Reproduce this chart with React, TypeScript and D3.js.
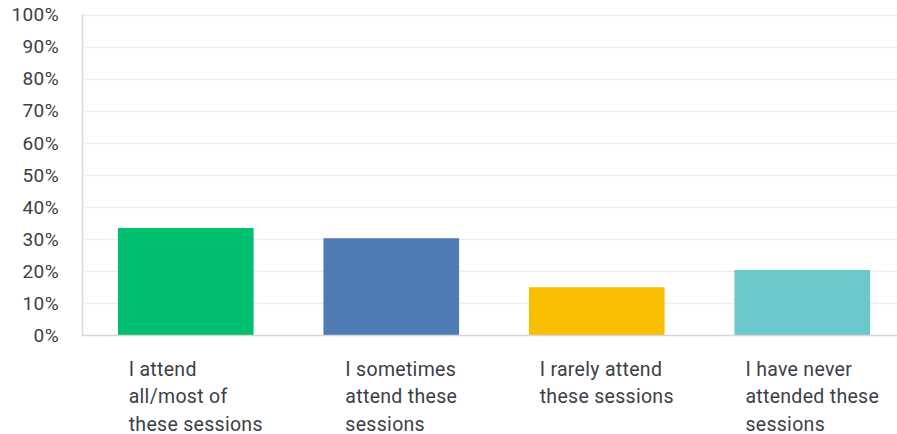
import React, { useEffect, useRef } from "react";
import * as d3 from "d3";

const categories = [
  "I attend all/most of these sessions",
  "I sometimes attend these sessions",
  "I rarely attend these sessions",
  "I have never attended these sessions",
];
const labelLines = [
  ["I attend", "all/most of", "these sessions"],
  ["I sometimes", "attend these", "sessions"],
  ["I rarely attend", "these sessions"],
  ["I have never", "attended these", "sessions"],
];
const values = [33.4, 30.2, 14.9, 20.3];
const colors = ["#00bf6f", "#507cb6", "#f9be00", "#6bc8cd"];
const yTicks = [0, 10, 20, 30, 40, 50, 60, 70, 80, 90, 100];

const App = () => {
  const svgRef = useRef<SVGSVGElement>(null);

  useEffect(() => {
    const width = 897;
    const height = 434;
    const margin = { top: 14.5, right: -8, bottom: 99, left: 83 };

    const svg = d3.select(svgRef.current);
    svg.selectAll("*").remove();
    svg.attr("width", width).attr("height", height);

    const x = d3
      .scaleBand<string>()
      .domain(categories)
      .range([margin.left, width - margin.right])
      .paddingInner(0.34)
      .paddingOuter(0.17);
    const y = d3
      .scaleLinear()
      .domain([0, 100])
      .range([height - margin.bottom, margin.top]);

    const font = "Roboto, 'Noto Sans', sans-serif";

    // gridlines
    svg
      .append("g")
      .selectAll("line")
      .data(yTicks.filter((d) => d > 0))
      .join("line")
      .attr("x1", margin.left)
      .attr("x2", width)
      .attr("y1", (d) => Math.round(y(d)) + 0.5)
      .attr("y2", (d) => Math.round(y(d)) + 0.5)
      .attr("stroke", "#ededed")
      .attr("stroke-width", 1.5);

    // y tick labels
    svg
      .append("g")
      .selectAll("text")
      .data(yTicks)
      .join("text")
      .attr("x", 59)
      .attr("y", (d) => y(d))
      .attr("dy", "0.36em")
      .attr("text-anchor", "end")
      .attr("font-family", font)
      .attr("font-size", 19)
      .attr("letter-spacing", 0.4)
      .attr("fill", "#3b4047")
      .text((d) => d + "%");

    // bars
    svg
      .append("g")
      .selectAll("rect")
      .data(values)
      .join("rect")
      .attr("x", (_, i) => x(categories[i]) as number)
      .attr("y", (d) => y(d))
      .attr("width", x.bandwidth())
      .attr("height", (d) => y(0) - y(d))
      .attr("fill", (_, i) => colors[i]);

    // axes lines
    svg
      .append("line")
      .attr("x1", margin.left - 0.5)
      .attr("x2", margin.left - 0.5)
      .attr("y1", y(100))
      .attr("y2", y(0) + 1)
      .attr("stroke", "#d9d9d9")
      .attr("stroke-width", 1.5);
    svg
      .append("line")
      .attr("x1", margin.left - 1)
      .attr("x2", width)
      .attr("y1", y(0) + 0.5)
      .attr("y2", y(0) + 0.5)
      .attr("stroke", "#d6d6d6")
      .attr("stroke-width", 1.5);

    // category labels, left-aligned block centred a little right of the bar
    const labels = svg
      .append("g")
      .selectAll("text")
      .data(labelLines)
      .join("text")
      .attr("font-family", font)
      .attr("font-size", 19.5)
      .attr("letter-spacing", 0.3)
      .attr("fill", "#3b4047");

    labels.each(function (lines, i) {
      const t = d3.select(this);
      lines.forEach((line, j) => {
        t.append("tspan").attr("y", 375.5 + j * 27.75).text(line);
      });
      const spans = t.selectAll<SVGTSpanElement, unknown>("tspan").nodes();
      const w = d3.max(spans, (s) => s.getComputedTextLength()) as number;
      const cx = (x(categories[i]) as number) + x.bandwidth() / 2 + 10;
      t.selectAll("tspan").attr("x", cx - w / 2);
    });
  }, []);

  return (
    <svg
      ref={svgRef}
      style={{ position: "absolute", left: 0, top: 0, background: "#fff" }}
    ></svg>
  );
};

export default App;
